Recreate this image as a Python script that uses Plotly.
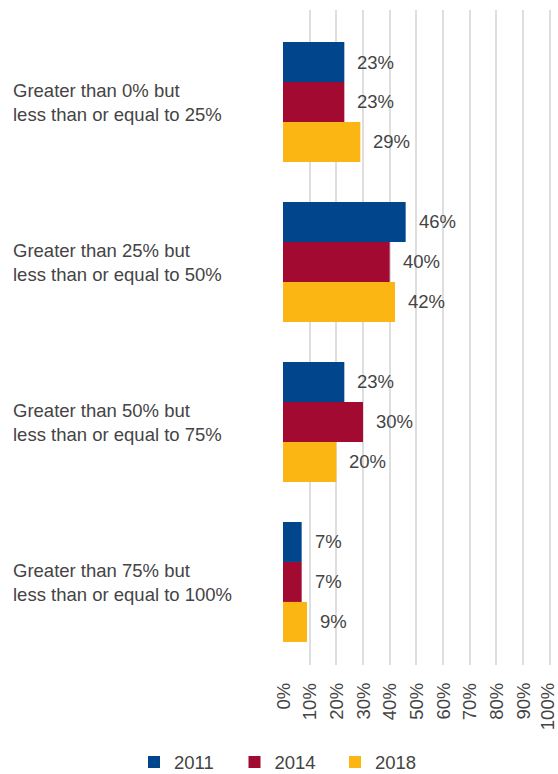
import plotly.graph_objects as go

# Share of respondents by band, per survey year
categories = [
    "Greater than 0% but<br>less than or equal to 25%",
    "Greater than 25% but<br>less than or equal to 50%",
    "Greater than 50% but<br>less than or equal to 75%",
    "Greater than 75% but<br>less than or equal to 100%",
]
years = ["2011", "2014", "2018"]
values_2011 = [23, 46, 23, 7]
values_2014 = [23, 40, 30, 7]
values_2018 = [29, 42, 20, 9]
tick_values = [0, 10, 20, 30, 40, 50, 60, 70, 80, 90, 100]

series = [values_2011, values_2014, values_2018]
colors = ["#01468C", "#A20A31", "#FCB614"]
text_color = "#444444"
font_family = "'Liberation Sans', Arial, sans-serif"
font_size = 18.5

# plot area in pixels
plot_left, plot_width = 283, 268
plot_top, plot_bottom = 10, 665
fig_w, fig_h = 558, 774
plot_height = plot_bottom - plot_top


def px_to_paper_x(px):
    return (px - plot_left) / plot_width


def px_to_paper_y(py):
    return (plot_bottom - py) / plot_height


label_font = dict(size=font_size, color=text_color, family=font_family)

fig = go.Figure()
positions = list(range(len(categories)))
for name, vals, col in zip(years, series, colors):
    fig.add_trace(go.Bar(
        name=name,
        x=vals,
        y=positions,
        orientation="h",
        marker=dict(color=col, line=dict(width=0)),
        hoverinfo="skip",
    ))

# value labels to the right of each bar
bar_unit = 0.25
for i, vals in enumerate(series):
    for c, v in enumerate(vals):
        fig.add_annotation(
            x=v, y=c + (i - 1) * bar_unit,
            xref="x", yref="y",
            text=f"{v}%",
            showarrow=False,
            xanchor="left", yanchor="middle",
            xshift=11,
            font=label_font,
        )

# category labels, left aligned at the page edge
for c, label in enumerate(categories):
    lines = label.split("<br>")
    for j, line in enumerate(lines):
        fig.add_annotation(
            x=px_to_paper_x(11), y=c,
            xref="paper", yref="y",
            text=line,
            showarrow=False,
            xanchor="left", yanchor="middle",
            yshift=11 - 24 * j,
            font=label_font,
        )

# percentage axis labels, rotated and hung from a common top line;
# the last one is nudged inwards so it stays inside the page
for t in tick_values:
    fig.add_annotation(
        x=t, y=px_to_paper_y(682),
        xref="x", yref="paper",
        text=f"{t}%",
        textangle=-90,
        showarrow=False,
        borderpad=0,
        xanchor="center", yanchor="top",
        xshift=-2 if t == tick_values[-1] else 0,
        font=label_font,
    )

fig.update_layout(
    width=fig_w, height=fig_h,
    margin=dict(l=plot_left, r=fig_w - plot_left - plot_width,
                t=plot_top, b=fig_h - plot_bottom, autoexpand=False),
    paper_bgcolor="white",
    plot_bgcolor="white",
    barmode="group",
    bargap=0.25,
    bargroupgap=0,
    font=dict(family=font_family, size=font_size, color=text_color),
    showlegend=True,
    legend=dict(
        orientation="h",
        x=px_to_paper_x(134), xanchor="left",
        y=px_to_paper_y(762.5), yanchor="middle",
        entrywidth=55.5, entrywidthmode="pixels",
        font=label_font,
        itemclick=False,
    ),
    xaxis=dict(
        range=[0, 100.5],
        tickvals=tick_values,
        showticklabels=False,
        showgrid=True,
        gridcolor="#DEDEDE",
        gridwidth=2,
        zeroline=False,
        showline=False,
        ticks="",
        automargin=False,
        fixedrange=True,
    ),
    yaxis=dict(
        range=[3.519, -0.575],
        showticklabels=False,
        showgrid=False,
        zeroline=False,
        showline=False,
        ticks="",
        automargin=False,
        fixedrange=True,
    ),
)

fig.write_html("out.html")
